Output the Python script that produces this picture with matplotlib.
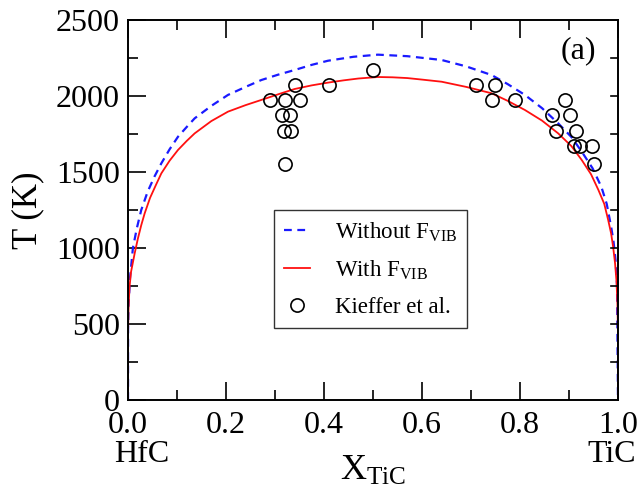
import matplotlib
matplotlib.use("Agg")
import matplotlib.pyplot as plt
from matplotlib.ticker import MultipleLocator

plt.rcParams['font.family'] = ['Liberation Serif', 'DejaVu Serif']
plt.rcParams['mathtext.fontset'] = 'custom'
plt.rcParams['mathtext.rm'] = 'Liberation Serif'
plt.rcParams['mathtext.it'] = 'Liberation Serif:italic'

# curve: with vibrational free energy
x_with = [0.0, 1e-5, 1e-4, 0.001, 0.003, 0.006, 0.0136, 0.02, 0.027, 0.034,
          0.045, 0.057, 0.068, 0.085, 0.102, 0.12, 0.136, 0.17, 0.204, 0.24,
          0.272, 0.31, 0.340, 0.375, 0.408, 0.44, 0.47, 0.51, 0.54, 0.57,
          0.60, 0.64, 0.69, 0.742, 0.775, 0.81, 0.845, 0.878, 0.905, 0.926,
          0.945, 0.96, 0.972, 0.98, 0.986, 0.99, 0.994, 0.997, 0.999, 0.9999, 1.0]
t_with = [0, 330, 450, 600, 740, 840, 965, 1060, 1150, 1228,
          1330, 1415, 1491, 1575, 1645, 1705, 1754, 1835, 1897, 1940,
          1974, 2015, 2046, 2070, 2088, 2103, 2115, 2125, 2123, 2118,
          2108, 2094, 2060, 2018, 1968, 1908, 1838, 1754, 1670, 1579,
          1485, 1382, 1290, 1184, 1095, 1009, 900, 780, 620, 450, 0]

# without vibrational free energy
x_without = [0.0, 1e-4, 0.001, 0.004, 0.01, 0.018, 0.027, 0.04, 0.054, 0.068,
             0.085, 0.102, 0.12, 0.136, 0.17, 0.204, 0.24, 0.272, 0.306, 0.340,
             0.375, 0.408, 0.46, 0.51, 0.57, 0.64, 0.69, 0.742, 0.775, 0.81,
             0.845, 0.878, 0.905, 0.926, 0.948, 0.966, 0.977, 0.986, 0.991,
             0.995, 0.998, 1.0]
t_without = [0, 470, 620, 800, 1000, 1130, 1250, 1370, 1470, 1557,
             1650, 1732, 1797, 1853, 1935, 2007, 2060, 2105, 2140, 2171,
             2205, 2232, 2258, 2272, 2262, 2237, 2195, 2138, 2078, 2007,
             1920, 1820, 1730, 1634, 1525, 1403, 1290, 1140, 1040,
             921, 760, 0]

# Kieffer et al. experimental points
x_exp = [0.29, 0.32, 0.35, 0.34, 0.315, 0.33, 0.318, 0.332, 0.32, 0.41, 0.50,
         0.71, 0.75, 0.742, 0.79, 0.892, 0.866, 0.902, 0.873, 0.914, 0.910,
         0.923, 0.946, 0.951]
t_exp = [1973, 1973, 1973, 2073, 1873, 1873, 1773, 1773, 1553, 2073, 2173,
         2073, 2073, 1973, 1973, 1973, 1873, 1873, 1773, 1773, 1673,
         1673, 1673, 1553]

fig = plt.figure(figsize=(6.42, 4.94), dpi=100)
ax = fig.add_axes([0.1994, 0.1903, 0.7632, 0.7692])

ax.plot(x_without, t_without, color='#1a1aff', lw=1.6, dashes=(3.5, 2.5),
        label='Without F$_{\\mathrm{VIB}}$')
ax.plot(x_with, t_with, color='#ff1010', lw=1.3, label='With F$_{\\mathrm{VIB}}$')
ax.plot(x_exp, t_exp, 'o', mfc='none', mec='black', mew=1.2, ms=9.5,
        label='Kieffer et al.')

ax.set_xlim(0, 1)
ax.set_ylim(0, 2500)
ax.xaxis.set_major_locator(MultipleLocator(0.2))
ax.xaxis.set_minor_locator(MultipleLocator(0.1))
ax.yaxis.set_major_locator(MultipleLocator(500))
ax.yaxis.set_minor_locator(MultipleLocator(250))
ax.xaxis.set_major_formatter(plt.FuncFormatter(lambda v, p: '%.1f' % v))
ax.tick_params(which='both', direction='in', top=True, right=False,
               labelsize=23, width=1.2)
ax.tick_params(which='major', length=13)
ax.tick_params(which='minor', length=7)
ax.tick_params(axis='x', which='major', pad=8)
ax.tick_params(axis='y', which='major', pad=6)
for yv in range(250, 2500, 250):
    ax.plot([0.985, 1.0], [yv, yv], transform=ax.get_yaxis_transform(),
            color='black', lw=1.2, clip_on=False)
for s in ax.spines.values():
    s.set_linewidth(1.4)

ax.set_ylabel('T (K)', fontsize=25, labelpad=8)
fig.text(0.5 * (0.1994 + 0.9626), 0.045, 'X$_{\\mathrm{TiC}}$', fontsize=26,
         ha='center', va='center')
fig.text(142 / 642, 1 - 454 / 494, 'HfC', fontsize=23, ha='center', va='center')
fig.text(612 / 642, 1 - 454 / 494, 'TiC', fontsize=23, ha='center', va='center')
ax.text(0.955, 0.92, '(a)', transform=ax.transAxes, fontsize=23,
        ha='right', va='center')

leg = ax.legend(loc='upper left', bbox_to_anchor=(0.298, 0.50), fontsize=16.5,
                handlelength=1.1, frameon=True, fancybox=False,
                borderpad=0.45, labelspacing=0.65, handletextpad=1.1,
                borderaxespad=0.0)
leg.get_frame().set_edgecolor('black')
leg.get_frame().set_linewidth(1.0)

fig.savefig('out.png', dpi=100)
